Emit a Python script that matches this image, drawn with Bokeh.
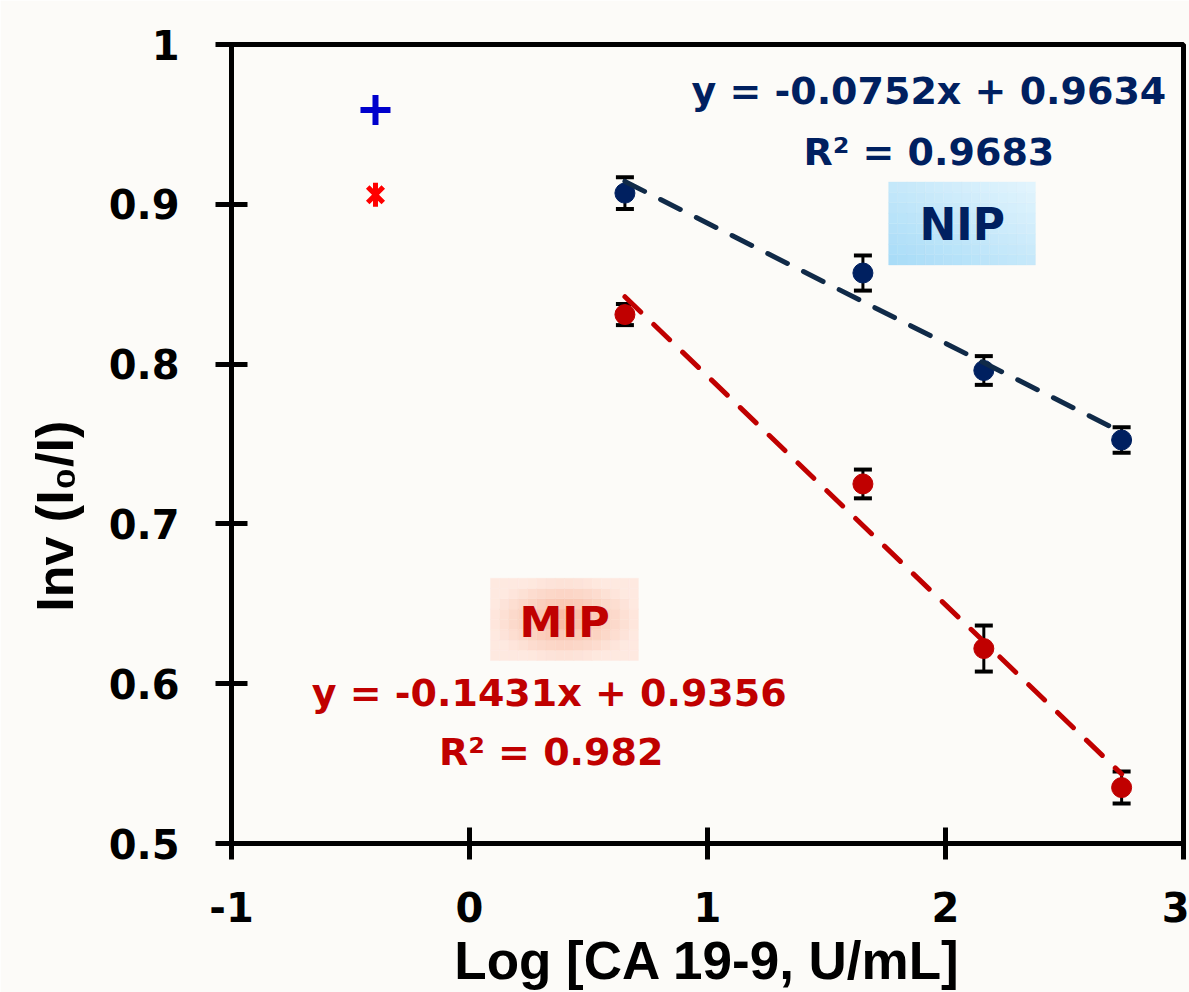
from bokeh.plotting import figure
from bokeh.models import (Range1d, FixedTicker, CustomJSTickFormatter, Whisker, TeeHead,
                          ColumnDataSource, Label, BoxAnnotation)
from bokeh.embed import file_html
from bokeh.resources import INLINE

# ---------------- data ----------------
log_conc = [0.653, 1.653, 2.161, 2.740]
nip_y = [0.907, 0.857, 0.796, 0.7525]
nip_err = [0.010, 0.011, 0.009, 0.008]
mip_y = [0.831, 0.725, 0.622, 0.535]
mip_err = [0.0066, 0.009, 0.0144, 0.010]
nip_slope, nip_icpt = -0.0752, 0.9634
mip_slope, mip_icpt = -0.1431, 0.9356
blank_x = [-0.395]
blank_plus_y = [0.959]
blank_star_y = [0.906]
x_ticks = [-1, 0, 1, 2, 3]
y_ticks = [0.5, 0.6, 0.7, 0.8, 0.9, 1.0]

NAVY = "#002060"
RED = "#C00000"
BG = "#FCFBF8"
TICK_FONT = "DejaVu Sans"

p = figure(width=1189, height=992, x_range=Range1d(-1, 3), y_range=Range1d(0.5, 1.0),
           output_backend="svg", toolbar_location=None,
           min_border_left=231, min_border_right=6, min_border_top=44, min_border_bottom=149,
           background_fill_color=BG, border_fill_color=BG)
p.grid.visible = False
p.outline_line_color = "black"
p.outline_line_width = 5

for ax in (p.xaxis[0], p.yaxis[0]):
    ax.axis_line_width = 5
    ax.major_tick_line_width = 5
    ax.major_tick_in = 16
    ax.major_tick_out = 16
    ax.minor_tick_line_color = None
    ax.major_label_text_font = TICK_FONT
    ax.major_label_text_font_style = "bold"
    ax.major_label_text_font_size = "40px"
    ax.major_label_text_color = "black"
    ax.axis_label_text_font = "Liberation Sans"
    ax.axis_label_text_font_style = "bold"
    ax.axis_label_text_color = "black"

p.xaxis.ticker = FixedTicker(ticks=x_ticks)
p.yaxis.ticker = FixedTicker(ticks=y_ticks)
p.yaxis.formatter = CustomJSTickFormatter(code="return (Math.abs(tick-1)<1e-9) ? '1' : tick.toFixed(1);")
p.xaxis.formatter = CustomJSTickFormatter(code="return Math.round(tick).toString();")
p.xaxis.major_label_standoff = 32
p.yaxis.major_label_standoff = 36
p.xaxis.axis_label = "Log [CA 19-9, U/mL]"
p.xaxis.axis_label_text_font_size = "53px"
p.xaxis.axis_label_standoff = 6
# trailing no-break spaces shift the rotated title down to where the reference has it
p.yaxis.axis_label = "Inv (I\u2080/I)" + "\u00a0" * 10
p.yaxis.axis_label_text_font_size = "52px"
p.yaxis.axis_label_standoff = 22


# ---------------- label boxes (gradients approximated by small cells) ----------------
def hex2rgb(h):
    return tuple(int(h[i:i + 2], 16) for i in (1, 3, 5))


def lerp(c1, c2, t):
    a, b = hex2rgb(c1), hex2rgb(c2)
    return "#%02x%02x%02x" % tuple(int(round(a[i] + (b[i] - a[i]) * t)) for i in range(3))


def gradient_box(l, r, t, b, fn, nx=16, ny=8):
    for i in range(nx):
        for j in range(ny):
            u = (i + 0.5) / nx
            v = (j + 0.5) / ny
            p.add_layout(BoxAnnotation(left=l + (r - l) * i / nx, right=l + (r - l) * (i + 1) / nx,
                                       bottom=b + (t - b) * j / ny, top=b + (t - b) * (j + 1) / ny,
                                       fill_color=fn(u, v), fill_alpha=1, line_color=fn(u, v),
                                       line_width=1, level="underlay"))


gradient_box(1.761, 2.378, 0.914, 0.862,
             lambda u, v: lerp("#A6DBF7", "#E4F5FD", (u + v) / 2))


def radial(u, v):
    d = min(1.0, (((u - 0.5) / 0.5) ** 2 + ((v - 0.5) / 0.5) ** 2) ** 0.5)
    return lerp("#F8B49A", "#FEE9E0", d)


gradient_box(0.088, 0.710, 0.666, 0.6145, radial)

# ---------------- error bars ----------------
for ys, es in ((nip_y, nip_err), (mip_y, mip_err)):
    src = ColumnDataSource(dict(x=log_conc, upper=[a + b for a, b in zip(ys, es)],
                                lower=[a - b for a, b in zip(ys, es)]))
    p.add_layout(Whisker(base="x", upper="upper", lower="lower", source=src,
                         line_color="black", line_width=3,
                         upper_head=TeeHead(size=18, line_width=4, line_color="black"),
                         lower_head=TeeHead(size=18, line_width=4, line_color="black")))

# ---------------- points ----------------
p.scatter(log_conc, nip_y, size=20, color=NAVY)
p.scatter(log_conc, mip_y, size=20, color=RED)

# ---------------- fit lines ----------------
fx = [log_conc[0], log_conc[-1]]
p.line(fx, [nip_slope * v + nip_icpt for v in fx], line_color="#102A48", line_width=5,
       line_dash="22 18", line_cap="round")
p.line(fx, [mip_slope * v + mip_icpt for v in fx], line_color=RED, line_width=5,
       line_dash="22 18", line_cap="round")

# ---------------- blank markers ----------------
p.scatter(blank_x, blank_plus_y, marker="cross", size=30, line_width=6, line_color="#0000CC")
p.scatter(blank_x, blank_star_y, marker="x", size=22, line_width=5, line_color="#FF0000")
p.scatter(blank_x, blank_star_y, marker="dash", angle=1.5708, size=24, line_width=5, line_color="#FF0000")


# ---------------- texts ----------------
def lab(x, y, t, color, size, font="DejaVu Sans"):
    p.add_layout(Label(x=x, y=y, text=t, text_color=color, text_font=font, text_font_style="bold",
                       text_font_size=size, text_align="center", text_baseline="middle"))


lab(1.93, 0.971, "y = -0.0752x + 0.9634", NAVY, "38px")
lab(1.93, 0.933, "R\u00b2 = 0.9683", NAVY, "38px")
lab(2.07, 0.8875, "NIP", NAVY, "44px")
lab(0.40, 0.6385, "MIP", RED, "43px")
lab(0.335, 0.594, "y = -0.1431x + 0.9356", RED, "38px")
lab(0.343, 0.557, "R\u00b2 = 0.982", RED, "38px")

open("out.html", "w").write(file_html(p, INLINE))
